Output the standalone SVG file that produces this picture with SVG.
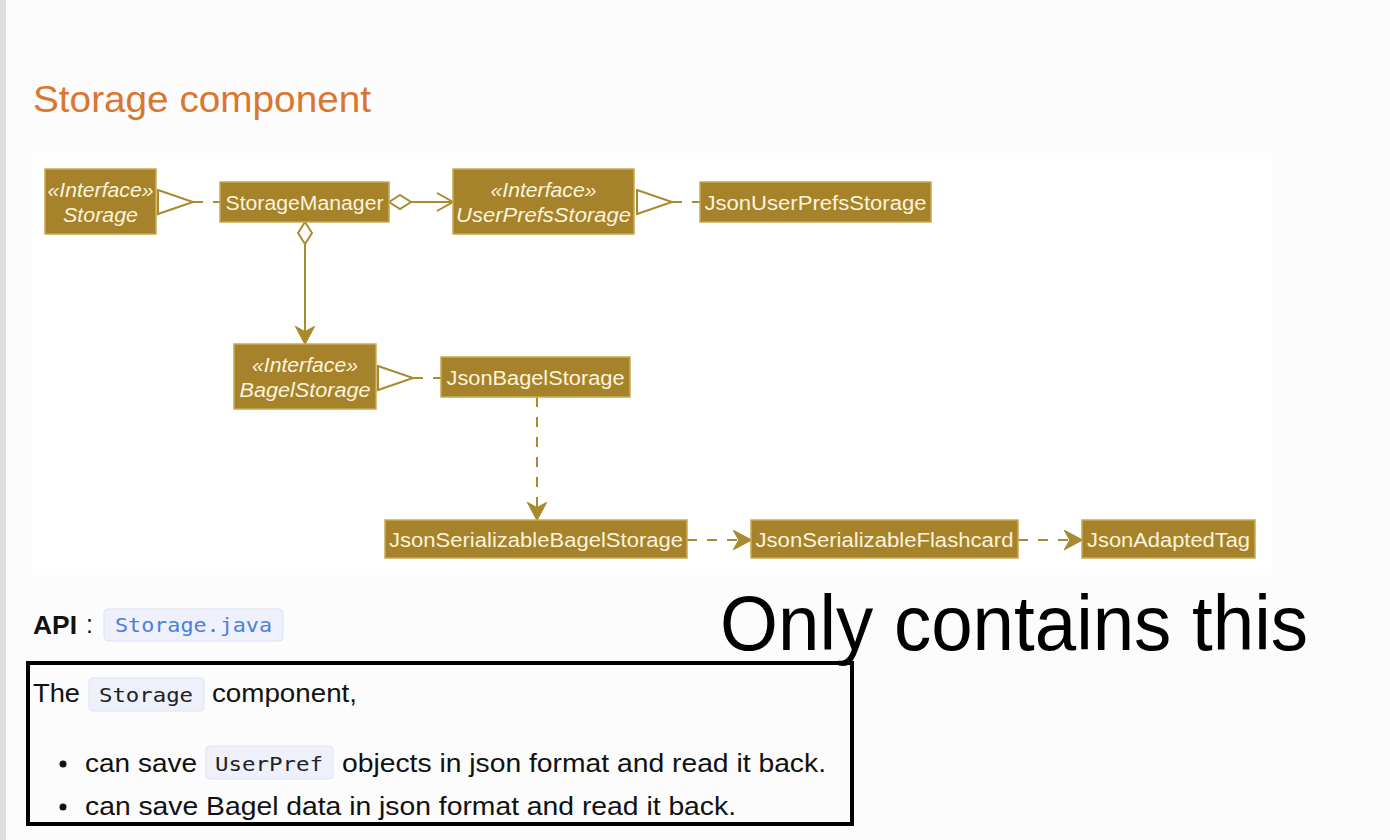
<svg xmlns="http://www.w3.org/2000/svg" width="1390" height="840" viewBox="0 0 1390 840">
<style>
.node rect{fill:#a6832b;stroke:#c9aa52;stroke-width:1.5}
.lbl{font-family:"Liberation Sans",Arial,sans-serif;font-size:20px;fill:#fbf3dc;text-anchor:middle}
.it{font-style:italic}
.edge{stroke:#a88a30;stroke-width:2;fill:none}
.dash{stroke-dasharray:10,10}
.body{font-family:"Liberation Sans",Arial,sans-serif;font-size:25px;fill:#111}
.code{font-family:"DejaVu Sans Mono","Liberation Mono",monospace;font-size:19px}
.cbox{fill:#eef0fb;stroke:#dfe2f2;stroke-width:1}
</style>
<defs>
<marker id="tri" markerUnits="userSpaceOnUse" markerWidth="40" markerHeight="30" refX="36" refY="13" orient="auto">
<path d="M1,1 L36,13 L1,25 Z" fill="#fff" stroke="#a88a30" stroke-width="2"/>
</marker>
<marker id="dia" markerUnits="userSpaceOnUse" markerWidth="26" markerHeight="18" refX="1" refY="8" orient="auto">
<path d="M1,8 L12,1 L23,8 L12,15 Z" fill="#fff" stroke="#a88a30" stroke-width="2"/>
</marker>
<marker id="open" markerUnits="userSpaceOnUse" markerWidth="20" markerHeight="22" refX="17" refY="10" orient="auto">
<path d="M1,1 L17,10 L1,19" fill="none" stroke="#a88a30" stroke-width="2"/>
</marker>
<marker id="fill" markerUnits="userSpaceOnUse" markerWidth="20" markerHeight="22" refX="18" refY="10" orient="auto">
<path d="M1,1 L18,10 L1,19 L6,10 Z" fill="#a88a30" stroke="#a88a30" stroke-width="1.5"/>
</marker>
</defs>
<rect x="0" y="0" width="1390" height="840" fill="#fcfcfc"/>
<rect x="0" y="0" width="6" height="840" fill="#dedede"/>
<rect x="32" y="153" width="1241" height="422" fill="#ffffff"/>
<text x="33" y="112" font-family="Liberation Sans,Arial,sans-serif" font-size="37" fill="#d9762f" textLength="338" lengthAdjust="spacingAndGlyphs">Storage component</text>

<g id="connectors">
<line class="edge dash" x1="193" y1="202" x2="220" y2="202" marker-start="url(#tri)"/>
<line class="edge" x1="389" y1="202" x2="453" y2="202" marker-start="url(#dia)" marker-end="url(#open)"/>
<line class="edge dash" x1="672" y1="202" x2="700" y2="202" marker-start="url(#tri)"/>
<line class="edge" x1="305" y1="222" x2="305" y2="344" marker-start="url(#dia)" marker-end="url(#fill)"/>
<line class="edge dash" x1="413" y1="378" x2="441" y2="378" marker-start="url(#tri)"/>
<line class="edge dash" x1="537" y1="397" x2="537" y2="520" marker-end="url(#fill)"/>
<line class="edge dash" x1="687" y1="540" x2="751" y2="540" marker-end="url(#fill)"/>
<line class="edge dash" x1="1018" y1="540" x2="1082" y2="540" marker-end="url(#fill)"/>
</g>

<g id="Storage" class="node">
<rect x="45" y="169" width="111" height="65"/>
<text class="lbl it" x="100.5" y="197" textLength="106" lengthAdjust="spacingAndGlyphs">«Interface»</text>
<text class="lbl it" x="100.5" y="222" textLength="75" lengthAdjust="spacingAndGlyphs">Storage</text>
</g>
<g id="StorageManager" class="node">
<rect x="220" y="182" width="169" height="40"/>
<text class="lbl" x="304.5" y="210" textLength="158" lengthAdjust="spacingAndGlyphs">StorageManager</text>
</g>
<g id="UserPrefsStorage" class="node">
<rect x="453" y="169" width="181" height="65"/>
<text class="lbl it" x="543.5" y="197" textLength="106" lengthAdjust="spacingAndGlyphs">«Interface»</text>
<text class="lbl it" x="543.5" y="222" textLength="175" lengthAdjust="spacingAndGlyphs">UserPrefsStorage</text>
</g>
<g id="JsonUserPrefsStorage" class="node">
<rect x="700" y="182" width="231" height="40"/>
<text class="lbl" x="815.5" y="210" textLength="222" lengthAdjust="spacingAndGlyphs">JsonUserPrefsStorage</text>
</g>
<g id="BagelStorage" class="node">
<rect x="234" y="344" width="142" height="65"/>
<text class="lbl it" x="305" y="372" textLength="106" lengthAdjust="spacingAndGlyphs">«Interface»</text>
<text class="lbl it" x="305" y="397" textLength="131" lengthAdjust="spacingAndGlyphs">BagelStorage</text>
</g>
<g id="JsonBagelStorage" class="node">
<rect x="441" y="357" width="189" height="40"/>
<text class="lbl" x="535.5" y="385" textLength="178" lengthAdjust="spacingAndGlyphs">JsonBagelStorage</text>
</g>
<g id="JsonSerializableBagelStorage" class="node">
<rect x="385" y="520" width="302" height="38"/>
<text class="lbl" x="536" y="547" textLength="294" lengthAdjust="spacingAndGlyphs">JsonSerializableBagelStorage</text>
</g>
<g id="JsonSerializableFlashcard" class="node">
<rect x="751" y="520" width="267" height="38"/>
<text class="lbl" x="884.5" y="547" textLength="258" lengthAdjust="spacingAndGlyphs">JsonSerializableFlashcard</text>
</g>
<g id="JsonAdaptedTag" class="node">
<rect x="1082" y="520" width="173" height="38"/>
<text class="lbl" x="1168.5" y="547" textLength="163" lengthAdjust="spacingAndGlyphs">JsonAdaptedTag</text>
</g>

<text class="body" x="33" y="634" font-weight="bold" font-size="23" textLength="44" lengthAdjust="spacingAndGlyphs">API</text>
<text class="body" x="86" y="633" font-size="23">:</text>
<rect class="cbox" x="104" y="609" width="179" height="32" rx="4"/>
<text class="code" x="115" y="632" fill="#4a80da" textLength="157" lengthAdjust="spacingAndGlyphs">Storage.java</text>

<text x="720" y="650" font-family="Liberation Sans,Arial,sans-serif" font-size="78" fill="#000" textLength="588" lengthAdjust="spacingAndGlyphs">Only contains this</text>

<rect x="28" y="663" width="824" height="161" fill="none" stroke="#000" stroke-width="4"/>

<text class="body" x="33" y="702" textLength="47" lengthAdjust="spacingAndGlyphs">The</text>
<rect class="cbox" x="89" y="678" width="115" height="33" rx="4"/>
<text class="code" x="99" y="702" fill="#222" textLength="94" lengthAdjust="spacingAndGlyphs">Storage</text>
<text class="body" x="212" y="702" textLength="145" lengthAdjust="spacingAndGlyphs">component,</text>

<circle cx="63" cy="764" r="3.5" fill="#111"/>
<text class="body" x="85" y="772" textLength="112" lengthAdjust="spacingAndGlyphs">can save</text>
<rect class="cbox" x="206" y="746" width="127" height="33" rx="4"/>
<text class="code" x="215" y="771" fill="#222" textLength="108" lengthAdjust="spacingAndGlyphs">UserPref</text>
<text class="body" x="342" y="772" textLength="484" lengthAdjust="spacingAndGlyphs">objects in json format and read it back.</text>

<circle cx="63" cy="807" r="3.5" fill="#111"/>
<text class="body" x="85" y="815" textLength="651" lengthAdjust="spacingAndGlyphs">can save Bagel data in json format and read it back.</text>
</svg>
